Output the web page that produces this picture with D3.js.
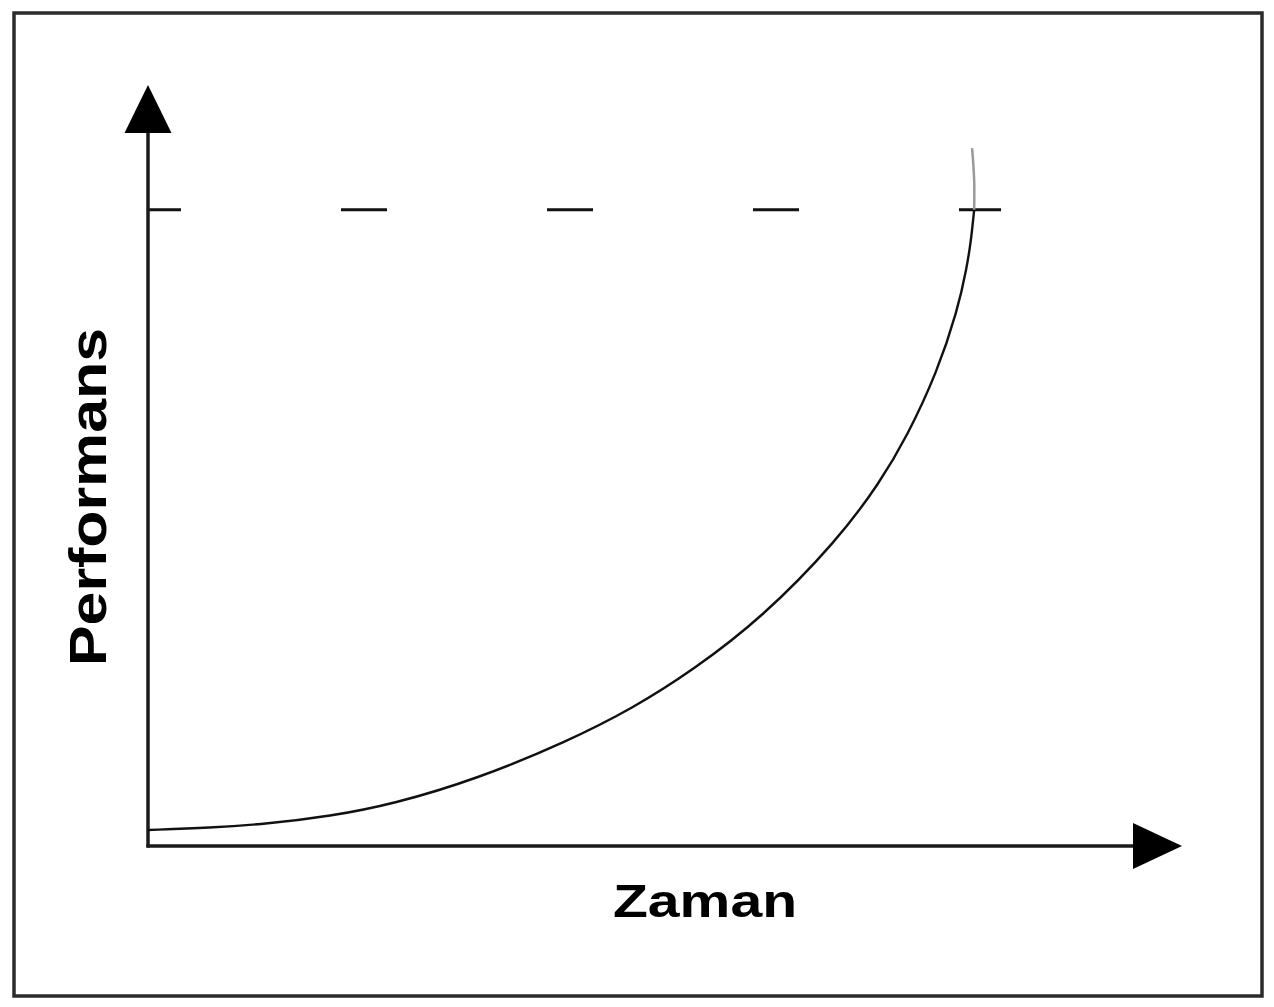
<!DOCTYPE html>
<html>
<head>
<meta charset="utf-8">
<script src="https://cdn.jsdelivr.net/npm/d3@7"></script>
<style>
html,body{margin:0;padding:0;background:#fff;}
svg{display:block;}
</style>
</head>
<body>
<svg id="chart" width="1274" height="1007"></svg>
<script>
// Data (in abstract units: time 0..100, performance 0..100)
const curveTime = [0, 6.0, 11.5, 17.6, 23.7, 31.8, 40.5, 46.9, 52.7, 59.4, 66.7, 70.8, 73.4, 76.3, 78.3, 79.2, 79.6, 79.9];
const curvePerf = [2.1, 2.4, 2.9, 3.9, 5.5, 8.8, 13.7, 18.1, 23.1, 30.0, 40.2, 47.8, 53.8, 62.2, 70.4, 76.1, 79.6, 83.6];
const tailTime = [79.9, 79.9, 79.7];
const tailPerf = [83.6, 87.5, 91.7];
const targetLevel = [83.6];
const targetSpan = [0, 82.5];
const xLabel = "Zaman";
const yLabel = "Performans";

const svg = d3.select("#chart");
const x = d3.scaleLinear().domain([0, 100]).range([148, 1182]);
const y = d3.scaleLinear().domain([0, 100]).range([846, 85]);

// frame
svg.append("rect").attr("x", 14).attr("y", 13).attr("width", 1248).attr("height", 983)
  .attr("fill", "none").attr("stroke", "#2b2b2b").attr("stroke-width", 3.5);

// target dashed line
svg.append("line")
  .attr("x1", x(targetSpan[0])).attr("x2", x(targetSpan[1]))
  .attr("y1", y(targetLevel[0])).attr("y2", y(targetLevel[0]))
  .attr("stroke", "#111").attr("stroke-width", 3)
  .attr("stroke-dasharray", "46 160").attr("stroke-dashoffset", 13);

// axes
const axisColor = "#1a1a1a";
svg.append("line").attr("x1", x(0)).attr("x2", x(0)).attr("y1", y(0) + 1.5).attr("y2", y(100) + 40)
  .attr("stroke", axisColor).attr("stroke-width", 3.5);
svg.append("line").attr("x1", x(0) - 1.5).attr("x2", x(100) - 40).attr("y1", y(0)).attr("y2", y(0))
  .attr("stroke", axisColor).attr("stroke-width", 3.5);
// arrowheads
svg.append("path")
  .attr("d", `M${x(0)},${y(100)} L${x(0) + 23.5},${y(100) + 48} L${x(0) - 23.5},${y(100) + 48} Z`)
  .attr("fill", "#000");
svg.append("path")
  .attr("d", `M${x(100)},${y(0)} L${x(100) - 49},${y(0) - 23} L${x(100) - 49},${y(0) + 23} Z`)
  .attr("fill", "#000");

// curve
const pts = curveTime.map((t, i) => [t, curvePerf[i]]);
const mainLine = d3.line().x(d => x(d[0])).y(d => y(d[1])).curve(d3.curveBasis);
svg.append("path").attr("d", mainLine(pts)).attr("fill", "none").attr("stroke", "#111").attr("stroke-width", 2.4);
const tail = tailTime.map((t, i) => [t, tailPerf[i]]);
const tailLine = d3.line().x(d => x(d[0])).y(d => y(d[1])).curve(d3.curveCatmullRom.alpha(0.5));
svg.append("path").attr("d", tailLine(tail)).attr("fill", "none").attr("stroke", "#9a9a9a").attr("stroke-width", 2.5);

// labels
svg.append("text").attr("x", 613).attr("y", 917)
  .attr("font-family", "Liberation Sans, Arial, sans-serif").attr("font-weight", "bold")
  .attr("font-size", 46).attr("textLength", 184).attr("lengthAdjust", "spacingAndGlyphs")
  .attr("fill", "#000").text(xLabel);

svg.append("text").attr("transform", "translate(106,666) rotate(-90)")
  .attr("x", 0).attr("y", 0)
  .attr("font-family", "Liberation Sans, Arial, sans-serif").attr("font-weight", "bold")
  .attr("font-size", 52).attr("textLength", 338).attr("lengthAdjust", "spacingAndGlyphs")
  .attr("fill", "#000").text(yLabel);
</script>
</body>
</html>
